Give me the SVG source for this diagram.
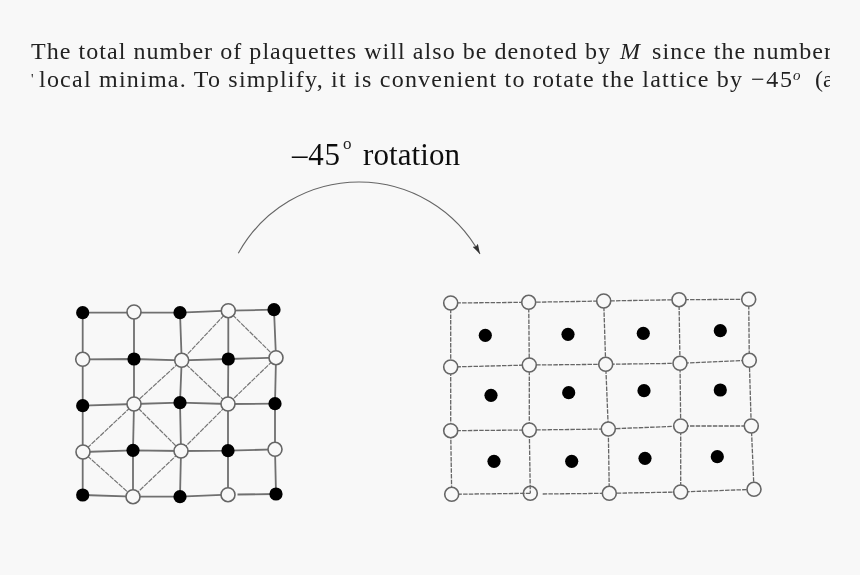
<svg xmlns="http://www.w3.org/2000/svg" width="860" height="575" viewBox="0 0 860 575">
<style>
text{font-family:"Liberation Serif","Times New Roman",serif;fill:#222}
.p{font-size:24px}
.h{font-size:31px;fill:#111}
.s{stroke:#707070;stroke-width:1.8;fill:none}
.d{stroke:#757575;stroke-width:1.2;fill:none;stroke-dasharray:5 1}
.g{stroke:#666;stroke-width:1.3;fill:none;stroke-dasharray:4.5 1.2}
.w{fill:#f8f8f8;stroke:#666;stroke-width:1.6}
.o{fill:none;stroke:#666;stroke-width:1.6}
.b{fill:#000}
.soft{filter:url(#soft)}
</style>
<defs>
<filter id="soft" x="-5%" y="-5%" width="110%" height="110%"><feGaussianBlur stdDeviation="0.45"/></filter>
<clipPath id="page"><rect x="28" y="30" width="802" height="70"/></clipPath>
<marker id="ah" markerUnits="userSpaceOnUse" markerWidth="12" markerHeight="8" refX="10" refY="3" orient="auto"><path d="M0 0L10 3L0 6L1.5 3Z" fill="#333"/></marker>
</defs>
<rect width="860" height="575" fill="#f8f8f8"/>
<g id="paragraph" clip-path="url(#page)">
<g class="soft">
<text class="p" x="31" y="59" textLength="579" lengthAdjust="spacing">The total number of plaquettes will also be denoted by</text>
<text class="p" x="620" y="59" font-style="italic">M</text>
<text class="p" x="652" y="59" textLength="180" lengthAdjust="spacing">since the number</text>
<text x="31" y="84" font-size="14" fill="#777">'</text>
<text class="p" x="39" y="87" textLength="703" lengthAdjust="spacing">local minima. To simplify, it is convenient to rotate the lattice by</text>
<text class="p" x="751" y="87" textLength="41" lengthAdjust="spacing">−45</text>
<text x="793" y="80" font-size="15" font-style="italic">o</text>
<text class="p" x="815" y="87">(a</text>
</g>
</g>
<g id="title" class="soft">
<text class="h" x="292" y="165" textLength="48" lengthAdjust="spacing">–45</text>
<text x="343" y="149" font-size="17">o</text>
<text class="h" x="363" y="165" textLength="97" lengthAdjust="spacing">rotation</text>
</g>
<g id="connectors" class="soft">
<path id="rotation-arrow" d="M238.3 253.3A137.7 137.7 0 0 1 480 254" fill="none" stroke="#666" stroke-width="1.1" marker-end="url(#ah)"/>
<g id="left-lattice-edges">
<path class="s" d="M82.7 312.7H134H180L228.3 310.7L274 309.7"/>
<path class="s" d="M82.7 359.3L134 359L181.7 360.3L228.3 359L276 357.7"/>
<path class="s" d="M82.7 405.7L134 404L180 402.7L228 404L275 403.7"/>
<path class="s" d="M83 452L133 450.3L181 451L228 450.7L275 449.3"/>
<path class="s" d="M82.7 495L133 496.7H180L228 494.7"/>
<path class="s" d="M237.5 494.5L276 494"/>
<path class="s" d="M82.7 312.7V495"/>
<path class="s" d="M134 312L134 404L133 450.3V496.7"/>
<path class="s" d="M180 312.7L181.7 360.3L180 402.7L181 451L180 496.7"/>
<path class="s" d="M228.3 310.7V359L228 404V494.7"/>
<path class="s" d="M274 309.7L276 357.7L275 403.7L275 449.3L276 494"/>
<path class="d" d="M228.3 310.7L181.7 360.3L134 404L83 452"/>
<path class="d" d="M228.3 310.7L276 357.7L228 404L181 451L133 496.7"/>
<path class="d" d="M181.7 360.3L228 404"/>
<path class="d" d="M134 404L181 451"/>
<path class="d" d="M83 452L133 496.7"/>
</g>
<g id="right-lattice-edges">
<path class="g" d="M450.7 303L528.7 302.3L603.7 301L679 299.7L748.7 299.3"/>
<path class="g" d="M450.7 367L529.3 365L605.7 364.3L680 363.3L749.3 360.3"/>
<path class="g" d="M450.7 430.7L529.3 430L608.3 429L680.7 426L751.3 426"/>
<path class="g" d="M451.7 494.3L530.3 493.3"/>
<path class="g" d="M542.7 494L609.3 493.3L680.7 492L754 489.3"/>
<path class="g" d="M450.7 303V430.7L451.7 494.3"/>
<path class="g" d="M528.7 302.3L529.3 365V430L530.3 493.3"/>
<path class="g" d="M603.7 301L605.7 364.3L608.3 429L609.3 493.3"/>
<path class="g" d="M679 299.7L680 363.3L680.7 426V492"/>
<path class="g" d="M748.7 299.3L749.3 360.3L751 418"/>
<path class="g" d="M751.3 426L754 489.3"/>
</g>
</g>
<g id="left-lattice-nodes" class="soft">
<g id="L00"><circle class="b" cx="82.7" cy="312.7" r="6.6"/></g>
<g id="L01"><circle class="w" cx="134" cy="312" r="7"/></g>
<g id="L02"><circle class="b" cx="180" cy="312.7" r="6.6"/></g>
<g id="L03"><circle class="w" cx="228.3" cy="310.7" r="7"/></g>
<g id="L04"><circle class="b" cx="274" cy="309.7" r="6.6"/></g>
<g id="L10"><circle class="w" cx="82.7" cy="359.3" r="7"/></g>
<g id="L11"><circle class="b" cx="134" cy="359" r="6.6"/></g>
<g id="L12"><circle class="w" cx="181.7" cy="360.3" r="7"/></g>
<g id="L13"><circle class="b" cx="228.3" cy="359" r="6.6"/></g>
<g id="L14"><circle class="w" cx="276" cy="357.7" r="7"/></g>
<g id="L20"><circle class="b" cx="82.7" cy="405.7" r="6.6"/></g>
<g id="L21"><circle class="w" cx="134" cy="404" r="7"/></g>
<g id="L22"><circle class="b" cx="180" cy="402.7" r="6.6"/></g>
<g id="L23"><circle class="w" cx="228" cy="404" r="7"/></g>
<g id="L24"><circle class="b" cx="275" cy="403.7" r="6.6"/></g>
<g id="L30"><circle class="w" cx="83" cy="452" r="7"/></g>
<g id="L31"><circle class="b" cx="133" cy="450.3" r="6.6"/></g>
<g id="L32"><circle class="w" cx="181" cy="451" r="7"/></g>
<g id="L33"><circle class="b" cx="228" cy="450.7" r="6.6"/></g>
<g id="L34"><circle class="w" cx="275" cy="449.3" r="7"/></g>
<g id="L40"><circle class="b" cx="82.7" cy="495" r="6.6"/></g>
<g id="L41"><circle class="w" cx="133" cy="496.7" r="7"/></g>
<g id="L42"><circle class="b" cx="180" cy="496.7" r="6.6"/></g>
<g id="L43"><circle class="w" cx="228" cy="494.7" r="7"/></g>
<g id="L44"><circle class="b" cx="276" cy="494" r="6.6"/></g>
</g>
<g id="right-lattice-nodes" class="soft">
<g id="R00"><circle class="w" cx="450.7" cy="303" r="7"/></g>
<g id="R01"><circle class="w" cx="528.7" cy="302.3" r="7"/></g>
<g id="R02"><circle class="w" cx="603.7" cy="301" r="7"/></g>
<g id="R03"><circle class="w" cx="679" cy="299.7" r="7"/></g>
<g id="R04"><circle class="w" cx="748.7" cy="299.3" r="7"/></g>
<g id="R10"><circle class="w" cx="450.7" cy="367" r="7"/></g>
<g id="R11"><circle class="w" cx="529.3" cy="365" r="7"/></g>
<g id="R12"><circle class="w" cx="605.7" cy="364.3" r="7"/></g>
<g id="R13"><circle class="w" cx="680" cy="363.3" r="7"/></g>
<g id="R14"><circle class="w" cx="749.3" cy="360.3" r="7"/></g>
<g id="R20"><circle class="w" cx="450.7" cy="430.7" r="7"/></g>
<g id="R21"><circle class="w" cx="529.3" cy="430" r="7"/></g>
<g id="R22"><circle class="w" cx="608.3" cy="429" r="7"/></g>
<g id="R23"><circle class="w" cx="680.7" cy="426" r="7"/></g>
<g id="R24"><circle class="w" cx="751.3" cy="426" r="7"/></g>
<g id="R30"><circle class="w" cx="451.7" cy="494.3" r="7"/></g>
<g id="R31"><circle class="o" cx="530.3" cy="493.3" r="7"/></g>
<g id="R32"><circle class="w" cx="609.3" cy="493.3" r="7"/></g>
<g id="R33"><circle class="w" cx="680.7" cy="492" r="7"/></g>
<g id="R34"><circle class="w" cx="754" cy="489.3" r="7"/></g>
<g id="P00"><circle class="b" cx="485.3" cy="335.3" r="6.6"/></g>
<g id="P01"><circle class="b" cx="568" cy="334.3" r="6.6"/></g>
<g id="P02"><circle class="b" cx="643.3" cy="333.3" r="6.6"/></g>
<g id="P03"><circle class="b" cx="720.3" cy="330.7" r="6.6"/></g>
<g id="P10"><circle class="b" cx="491" cy="395.3" r="6.6"/></g>
<g id="P11"><circle class="b" cx="568.7" cy="392.7" r="6.6"/></g>
<g id="P12"><circle class="b" cx="644" cy="390.7" r="6.6"/></g>
<g id="P13"><circle class="b" cx="720.3" cy="390" r="6.6"/></g>
<g id="P20"><circle class="b" cx="494" cy="461.3" r="6.6"/></g>
<g id="P21"><circle class="b" cx="571.7" cy="461.3" r="6.6"/></g>
<g id="P22"><circle class="b" cx="645" cy="458.3" r="6.6"/></g>
<g id="P23"><circle class="b" cx="717.3" cy="456.7" r="6.6"/></g>
</g>
</svg>
